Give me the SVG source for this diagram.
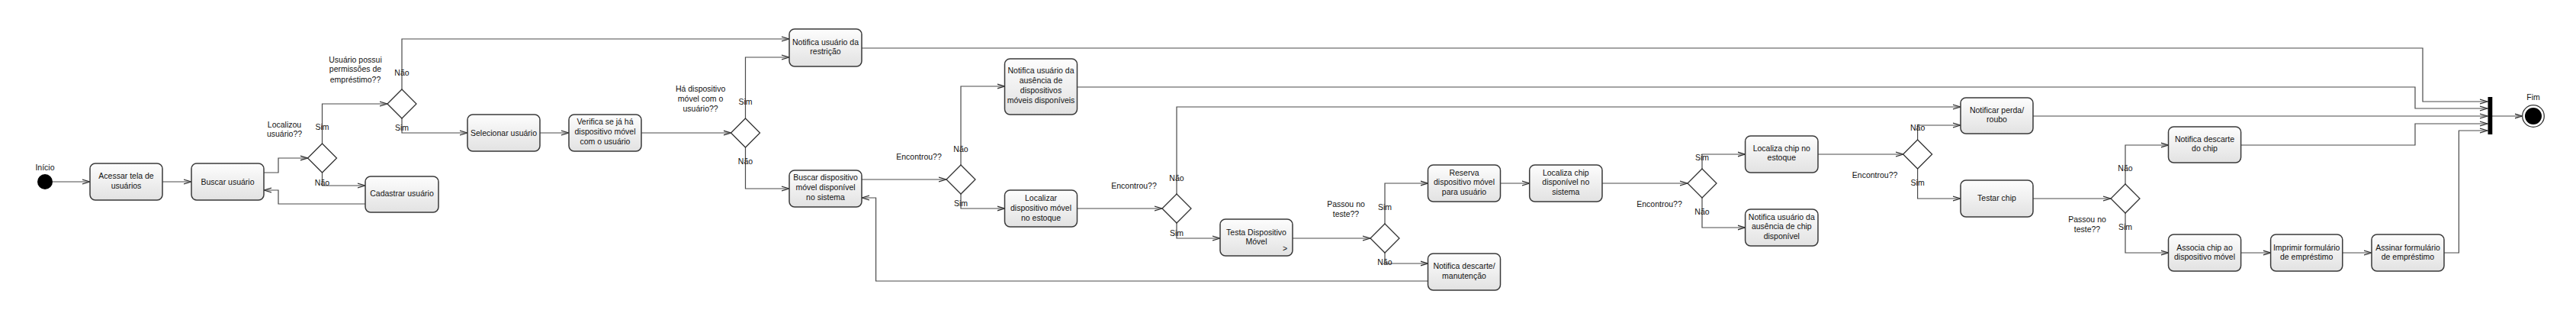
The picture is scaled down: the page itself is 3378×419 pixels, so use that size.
<svg xmlns="http://www.w3.org/2000/svg" width="3378" height="419" viewBox="0 0 3378 419">
<style>
.box rect{fill:url(#g);stroke:#3a3a3a;stroke-width:1.5}
text{font-family:"Liberation Sans",Arial,sans-serif;font-size:10.5px;fill:#111}
.c{text-anchor:middle}
#connectors path{fill:none;stroke:#4a4a4a;stroke-width:1.2;marker-end:url(#arr)}
.dia polygon{fill:#fff;stroke:#333;stroke-width:1.3}
</style>
<defs>
<linearGradient id="g" x1="0" y1="0" x2="0" y2="1"><stop offset="0" stop-color="#fdfdfd"/><stop offset="1" stop-color="#e2e2e2"/></linearGradient>
<marker id="arr" markerUnits="userSpaceOnUse" markerWidth="12" markerHeight="9" refX="10" refY="4.5" orient="auto"><path d="M0,1.6 L10,4.5 L0,7.4" fill="none" stroke="#333" stroke-width="1.3"/></marker>
</defs>
<rect width="3378" height="419" fill="#fff"/>
<g id="connectors">
<path d="M69,238 H118"/>
<path d="M213,238 H251"/>
<path d="M346,226 H365 V207 H403.5"/>
<path d="M422.5,188 V136 H508"/>
<path d="M422.5,226 V243 H479"/>
<path d="M479,267 H365 V249 H346"/>
<path d="M527,117 V51 H1035"/>
<path d="M527,155 V174 H613"/>
<path d="M708,174 H746"/>
<path d="M841,174 H958.5"/>
<path d="M977.5,155 V75 H1035"/>
<path d="M977.5,193 V247 H1035"/>
<path d="M1130,63 H3177 V133 H3262"/>
<path d="M1130,235 H1241"/>
<path d="M1260,216 V113 H1317.5"/>
<path d="M1260,254 V273 H1317.5"/>
<path d="M1412.5,114 H3167 V142 H3262"/>
<path d="M1412.5,273 H1524"/>
<path d="M1543,254 V140 H2571"/>
<path d="M1543,292 V312 H1600"/>
<path d="M1695,312 H1797"/>
<path d="M1816,293 V240 H1872.5"/>
<path d="M1816,331 V345 H1872.5"/>
<path d="M1872.5,368 H1148.6 V259 H1130"/>
<path d="M1967.5,240 H2005.7"/>
<path d="M2101,240 H2213"/>
<path d="M2232,221 V202 H2288.6"/>
<path d="M2232,259 V298 H2288.6"/>
<path d="M2384,202 H2496"/>
<path d="M2514.6,183 V164 H2571"/>
<path d="M2514.6,221 V260 H2571"/>
<path d="M2666,152 H3262"/>
<path d="M2666,260 H2768"/>
<path d="M2787,241 V190 H2843.5"/>
<path d="M2787,279 V331 H2843.5"/>
<path d="M2938.6,190 H3167 V162 H3262"/>
<path d="M2938.6,331 H2977.6"/>
<path d="M3071.8,331 H3110"/>
<path d="M3205,331 H3224.4 V171 H3262"/>
<path d="M3268,152 H3307.5"/>
</g>
<g id="start"><circle cx="59" cy="238" r="10" fill="#000"/><text class="c" x="59" y="223">Início</text></g>
<g id="end"><circle cx="3322" cy="152" r="14.3" fill="#fff" stroke="#333" stroke-width="1.3"/><circle cx="3322" cy="152" r="11" fill="#000"/><text class="c" x="3322" y="131">Fim</text></g>
<g id="join"><rect x="3262.5" y="127" width="5.8" height="49" fill="#000"/></g>

<g id="n_acessar" class="box"><rect x="118" y="214" width="95" height="48" rx="7"/><text class="c" x="165.5" y="234">Acessar tela de</text><text class="c" x="165.5" y="247">usuários</text></g>
<g id="n_buscar" class="box"><rect x="251" y="214" width="95" height="48" rx="7"/><text class="c" x="298.5" y="242">Buscar usuário</text></g>
<g id="n_cadastrar" class="box"><rect x="479" y="231" width="96" height="47" rx="7"/><text class="c" x="527" y="257">Cadastrar usuário</text></g>
<g id="n_selecionar" class="box"><rect x="613" y="150" width="95" height="48" rx="7"/><text class="c" x="660.5" y="178">Selecionar usuário</text></g>
<g id="n_verifica" class="box"><rect x="746" y="150" width="95" height="48" rx="7"/><text class="c" x="793.5" y="163">Verifica se já há</text><text class="c" x="793.5" y="176">dispositivo móvel</text><text class="c" x="793.5" y="189">com o usuário</text></g>
<g id="n_restricao" class="box"><rect x="1035" y="38" width="95" height="49" rx="7"/><text class="c" x="1082.5" y="59">Notifica usuário da</text><text class="c" x="1082.5" y="71">restrição</text></g>
<g id="n_buscardisp" class="box"><rect x="1035" y="223" width="95" height="48" rx="7"/><text class="c" x="1082.5" y="236">Buscar dispositivo</text><text class="c" x="1082.5" y="249">móvel disponível</text><text class="c" x="1082.5" y="262">no sistema</text></g>
<g id="n_ausencia" class="box"><rect x="1317.5" y="77" width="95" height="73" rx="7"/><text class="c" x="1365" y="96">Notifica usuário da</text><text class="c" x="1365" y="109">ausência de</text><text class="c" x="1365" y="122">dispositivos</text><text class="c" x="1365" y="135">móveis disponíveis</text></g>
<g id="n_localizar" class="box"><rect x="1317.5" y="249" width="95" height="48" rx="7"/><text class="c" x="1365" y="263">Localizar</text><text class="c" x="1365" y="276">dispositivo móvel</text><text class="c" x="1365" y="289">no estoque</text></g>
<g id="n_testa" class="box"><rect x="1600" y="287" width="95" height="48" rx="7"/><text class="c" x="1647.5" y="308">Testa Dispositivo</text><text class="c" x="1647.5" y="320">Móvel</text><text x="1682" y="329">&gt;</text></g>
<g id="n_reserva" class="box"><rect x="1872.5" y="216" width="95" height="48" rx="7"/><text class="c" x="1920" y="230">Reserva</text><text class="c" x="1920" y="242">dispositivo móvel</text><text class="c" x="1920" y="255">para usuário</text></g>
<g id="n_descarte" class="box"><rect x="1872.5" y="332" width="95" height="48" rx="7"/><text class="c" x="1920" y="352">Notifica descarte/</text><text class="c" x="1920" y="365">manutenção</text></g>
<g id="n_chipsis" class="box"><rect x="2005.7" y="216" width="95.3" height="48" rx="7"/><text class="c" x="2053.3" y="230">Localiza chip</text><text class="c" x="2053.3" y="242">disponível no</text><text class="c" x="2053.3" y="255">sistema</text></g>
<g id="n_chipest" class="box"><rect x="2288.6" y="178" width="95.4" height="48" rx="7"/><text class="c" x="2336.3" y="198">Localiza chip no</text><text class="c" x="2336.3" y="210">estoque</text></g>
<g id="n_chipaus" class="box"><rect x="2288.6" y="274" width="95.4" height="48" rx="7"/><text class="c" x="2336.3" y="288">Notifica usuário da</text><text class="c" x="2336.3" y="300">ausência de chip</text><text class="c" x="2336.3" y="313">disponível</text></g>
<g id="n_perda" class="box"><rect x="2571" y="128" width="95" height="47" rx="7"/><text class="c" x="2618.5" y="148">Notificar perda/</text><text class="c" x="2618.5" y="160">roubo</text></g>
<g id="n_testar" class="box"><rect x="2571" y="236" width="95" height="48" rx="7"/><text class="c" x="2618.5" y="263">Testar chip</text></g>
<g id="n_descchip" class="box"><rect x="2843.5" y="166" width="95.1" height="47" rx="7"/><text class="c" x="2891" y="186">Notifica descarte</text><text class="c" x="2891" y="198">do chip</text></g>
<g id="n_associa" class="box"><rect x="2843.5" y="307" width="95.1" height="48" rx="7"/><text class="c" x="2891" y="328">Associa chip ao</text><text class="c" x="2891" y="340">dispositivo móvel</text></g>
<g id="n_imprimir" class="box"><rect x="2977.6" y="307" width="94.2" height="48" rx="7"/><text class="c" x="3024.7" y="328">Imprimir formulário</text><text class="c" x="3024.7" y="340">de empréstimo</text></g>
<g id="n_assinar" class="box"><rect x="3110" y="307" width="95" height="48" rx="7"/><text class="c" x="3157.5" y="328">Assinar formulário</text><text class="c" x="3157.5" y="340">de empréstimo</text></g>

<g id="d1" class="dia"><polygon points="422.5,188 441.5,207 422.5,226 403.5,207"/><text class="c" x="373" y="167">Localizou</text><text class="c" x="373" y="179">usuário??</text><text class="c" x="422.5" y="170">Sim</text><text class="c" x="422.5" y="243">Não</text></g>
<g id="d2" class="dia"><polygon points="527,117 546,136 527,155 508,136"/><text class="c" x="466" y="82">Usuário possui</text><text class="c" x="466" y="94">permissões de</text><text class="c" x="466" y="108">empréstimo??</text><text class="c" x="527" y="99">Não</text><text class="c" x="527" y="171">Sim</text></g>
<g id="d3" class="dia"><polygon points="977.5,155 996.5,174 977.5,193 958.5,174"/><text class="c" x="918.6" y="120">Há dispositivo</text><text class="c" x="918.6" y="133">móvel com o</text><text class="c" x="918.6" y="146">usuário??</text><text class="c" x="977.5" y="137">Sim</text><text class="c" x="977.5" y="215">Não</text></g>
<g id="d4" class="dia"><polygon points="1260,216 1279,235 1260,254 1241,235"/><text class="c" x="1205" y="209">Encontrou??</text><text class="c" x="1260" y="199">Não</text><text class="c" x="1260" y="270">Sim</text></g>
<g id="d5" class="dia"><polygon points="1543,254 1562,273 1543,292 1524,273"/><text class="c" x="1487" y="247">Encontrou??</text><text class="c" x="1543" y="237">Não</text><text class="c" x="1543" y="309">Sim</text></g>
<g id="d6" class="dia"><polygon points="1816,293 1835,312 1816,331 1797,312"/><text class="c" x="1765" y="271">Passou no</text><text class="c" x="1765" y="284">teste??</text><text class="c" x="1816" y="275">Sim</text><text class="c" x="1816" y="347">Não</text></g>
<g id="d7" class="dia"><polygon points="2232,221 2251,240 2232,259 2213,240"/><text class="c" x="2176" y="271">Encontrou??</text><text class="c" x="2232" y="210">Sim</text><text class="c" x="2232" y="281">Não</text></g>
<g id="d8" class="dia"><polygon points="2514.6,183 2533.6,202 2514.6,221 2495.6,202"/><text class="c" x="2458.6" y="233">Encontrou??</text><text class="c" x="2514.6" y="171">Não</text><text class="c" x="2514.6" y="243">Sim</text></g>
<g id="d9" class="dia"><polygon points="2787,241 2806,260 2787,279 2768,260"/><text class="c" x="2737" y="291">Passou no</text><text class="c" x="2737" y="304">teste??</text><text class="c" x="2787" y="224">Não</text><text class="c" x="2787" y="301">Sim</text></g>
</svg>
